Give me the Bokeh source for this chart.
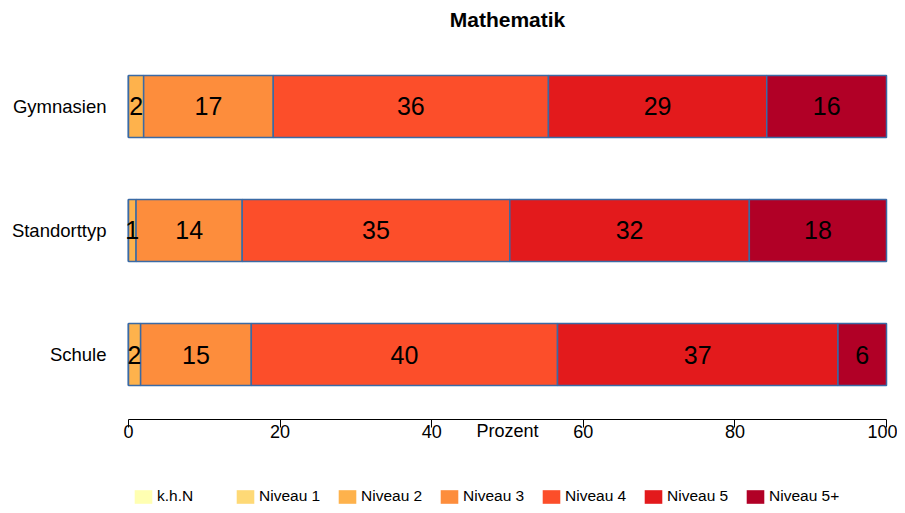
import numpy as np
from bokeh.plotting import figure
from bokeh.models import ColumnDataSource, Range1d, Legend, LegendItem, FixedTicker, Label
from bokeh.core.properties import value
from bokeh.embed import file_html
from bokeh.resources import INLINE

# ---- data ----
title_text = "Mathematik"
categories = ["Gymnasien", "Standorttyp", "Schule"]
levels = ["k.h.N", "Niveau 1", "Niveau 2", "Niveau 3", "Niveau 4", "Niveau 5", "Niveau 5+"]
khn = [0.0, 0.0, 0.0]
niveau1 = [0.0, 0.0, 0.0]
niveau2 = [2.0, 1.0, 1.6]
niveau3 = [17.1, 14.0, 14.6]
niveau4 = [36.3, 35.3, 40.4]
niveau5 = [28.8, 31.6, 37.0]
niveau5p = [15.8, 18.1, 6.4]
x_ticks = [0, 20, 40, 60, 80, 100]

colors = ["#FFFFB2", "#FED976", "#FEB24C", "#FD8D3C", "#FC4E2A", "#E31A1C", "#B10026"]
keys = ["khn", "n1", "n2", "n3", "n4", "n5", "n5p"]
series = [khn, niveau1, niveau2, niveau3, niveau4, niveau5, niveau5p]

FONT = "Liberation Sans"

n = len(categories)
ypos = [n - 1 - i for i in range(n)]  # first category on top

data = {"ypos": ypos}
for k, s in zip(keys, series):
    data[k] = s
source = ColumnDataSource(data)

p = figure(
    width=897, height=505,
    y_range=Range1d(-1.2177, 2.8548),
    x_range=Range1d(-1.583, 101.45),
    output_backend="svg", toolbar_location=None,
    min_border_left=116, min_border_right=0, min_border_top=0, min_border_bottom=0,
)
p.title.visible = False

# un-outlined copies underneath the bars, used as legend keys
swatches = p.hbar_stack(keys, y="ypos", height=0.5, color=colors, source=source,
                        line_color=None)
# outlined bars
renderers = p.hbar_stack(keys, y="ypos", height=0.5, color=colors, source=source,
                         line_color="#3A6AA5", line_width=1.5)

# value labels
arr = np.array(series)  # levels x categories
cum = np.cumsum(arr, axis=0)
lx, ly, lt = [], [], []
for j in range(n):
    for i in range(len(levels)):
        v = arr[i, j]
        if round(v) >= 1:
            lx.append(cum[i, j] - v / 2)
            ly.append(ypos[j])
            lt.append(str(int(round(v))))
p.text(x=lx, y=ly, text=lt, text_align="center", text_baseline="middle",
       text_font=value(FONT), text_font_size="25px", text_color="black")

# title
p.add_layout(Label(x=50, y=2.705, text=title_text, text_align="center",
                   text_baseline="alphabetic", text_font=FONT, text_font_size="21px",
                   text_font_style="bold", text_color="black"))

# x axis, drawn at the bottom edge of the bar block
p.xaxis.fixed_location = -0.5242
p.xaxis.bounds = (0, 100)
p.xaxis.ticker = FixedTicker(ticks=x_ticks)
p.xaxis.axis_label = "Prozent"
p.xaxis.axis_label_text_font = FONT
p.xaxis.axis_label_text_font_size = "18px"
p.xaxis.axis_label_text_font_style = "normal"
p.xaxis.axis_label_text_color = "black"
p.xaxis.axis_label_standoff = -20
p.xaxis.major_label_text_font = FONT
p.xaxis.major_label_text_font_size = "18px"
p.xaxis.major_label_text_color = "black"
p.xaxis.major_tick_out = 8
p.xaxis.major_tick_in = 0
p.xaxis.major_label_standoff = -3
p.xaxis.minor_tick_line_color = None
p.xaxis.axis_line_color = "black"
p.xaxis.major_tick_line_color = "black"

# y axis with category names
p.yaxis.ticker = FixedTicker(ticks=ypos)
p.yaxis.major_label_overrides = {y: c for y, c in zip(ypos, categories)}
p.yaxis.major_label_text_font = FONT
p.yaxis.major_label_text_font_size = "18.5px"
p.yaxis.major_label_text_color = "black"
p.yaxis.axis_line_color = None
p.yaxis.major_tick_line_color = None
p.yaxis.minor_tick_line_color = None
p.yaxis.major_tick_out = 0
p.yaxis.major_label_standoff = 10

p.xgrid.grid_line_color = None
p.ygrid.grid_line_color = None
p.outline_line_color = None

legend = Legend(
    items=[LegendItem(label=lab, renderers=[r]) for lab, r in zip(levels, swatches)],
    orientation="horizontal",
    location=(16, 0),
    border_line_color=None,
    background_fill_alpha=0,
    padding=0, margin=0, spacing=5,
    glyph_width=22, glyph_height=17,
    label_width=72, label_height=14, label_standoff=3,
    label_text_font=FONT, label_text_font_size="15.5px", label_text_color="black",
)
p.add_layout(legend, "center")

open("out.html", "w").write(file_html(p, INLINE))
